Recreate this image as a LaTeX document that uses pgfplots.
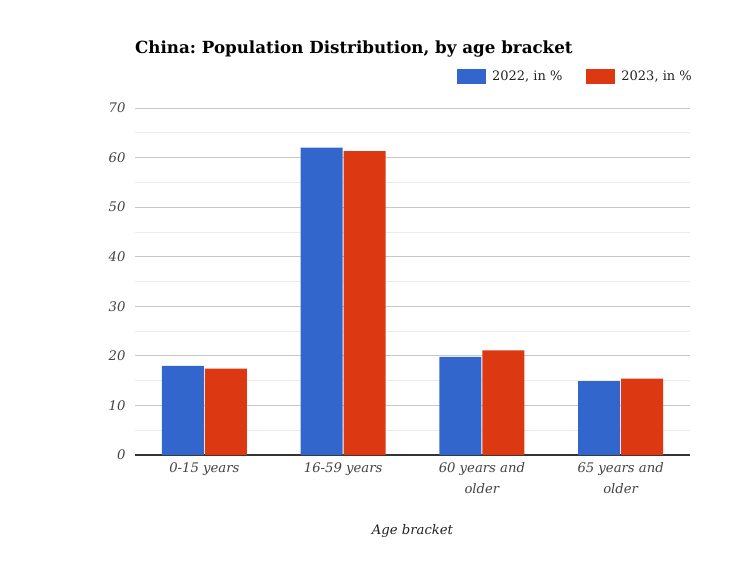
\documentclass[border=0pt]{standalone}
\usepackage{fontspec}
\setmainfont{DejaVu Serif}
\usepackage{pgfplots}
\pgfplotsset{compat=1.18}
\definecolor{blue22}{HTML}{3366CC}
\definecolor{red23}{HTML}{DC3912}
\definecolor{ticktext}{HTML}{444444}
\definecolor{labeltext}{HTML}{222222}
\frenchspacing

\begin{document}
\begin{tikzpicture}[x=1pt,y=1pt]
\path[fill=white,use as bounding box] (0,0) rectangle (750,563);
\node[anchor=base west,inner sep=0pt,font=\fontsize{16.7}{19}\selectfont\bfseries] at (135,509) {China: Population Distribution, by age bracket};
\begin{axis}[
    at={(135pt,108pt)}, anchor=south west,
    scale only axis, width=555pt, height=347pt,
    ybar=1pt, bar width=42pt,
    xmin=-0.5, xmax=3.5, ymin=0, ymax=70,
    xtick=data,
    xticklabels={0-15 years, 16-59 years, 60 years and\\older, 65 years and\\older},
    ytick={0,10,...,70},
    minor y tick num=1,
    ymajorgrids, yminorgrids,
    major grid style={color=black!22, line width=0.8pt},
    minor grid style={color=black!8, line width=0.8pt},
    major tick length=0pt, minor tick length=0pt,
    axis lines*=left,
    y axis line style={draw=none},
    x axis line style={draw=black!80, line width=1.2pt},
    tick label style={font=\fontsize{13.2}{21}\selectfont\itshape, text=ticktext},
    x tick label style={align=center, yshift=-4pt},
    y tick label style={xshift=-6pt},
    /pgf/number format/assume math mode=true,
    xlabel={Age bracket},
    xlabel style={font=\fontsize{13.2}{16}\selectfont\itshape, text=labeltext,
        at={(axis description cs:0.5,-0.22)}, anchor=center},
    legend columns=2,
    legend style={draw=none, fill=none, at={(1,1)}, anchor=south east,
        xshift=7pt, yshift=22pt, font=\fontsize{13}{16}\selectfont, text=labeltext,
        /tikz/every odd column/.style={column sep=4pt},
        /tikz/every even column/.style={column sep=22pt}},
    legend image code/.code={\fill[#1] (0pt,-7.5pt) rectangle (29pt,7.5pt);},
]
\addplot[fill=blue22, draw=none] coordinates {(0,18.0) (1,62.0) (2,19.8) (3,14.9)};
\addlegendentry{2022, in \%}
\addplot[fill=red23, draw=none] coordinates {(0,17.4) (1,61.3) (2,21.1) (3,15.4)};
\addlegendentry{2023, in \%}
\end{axis}
\end{tikzpicture}
\end{document}
